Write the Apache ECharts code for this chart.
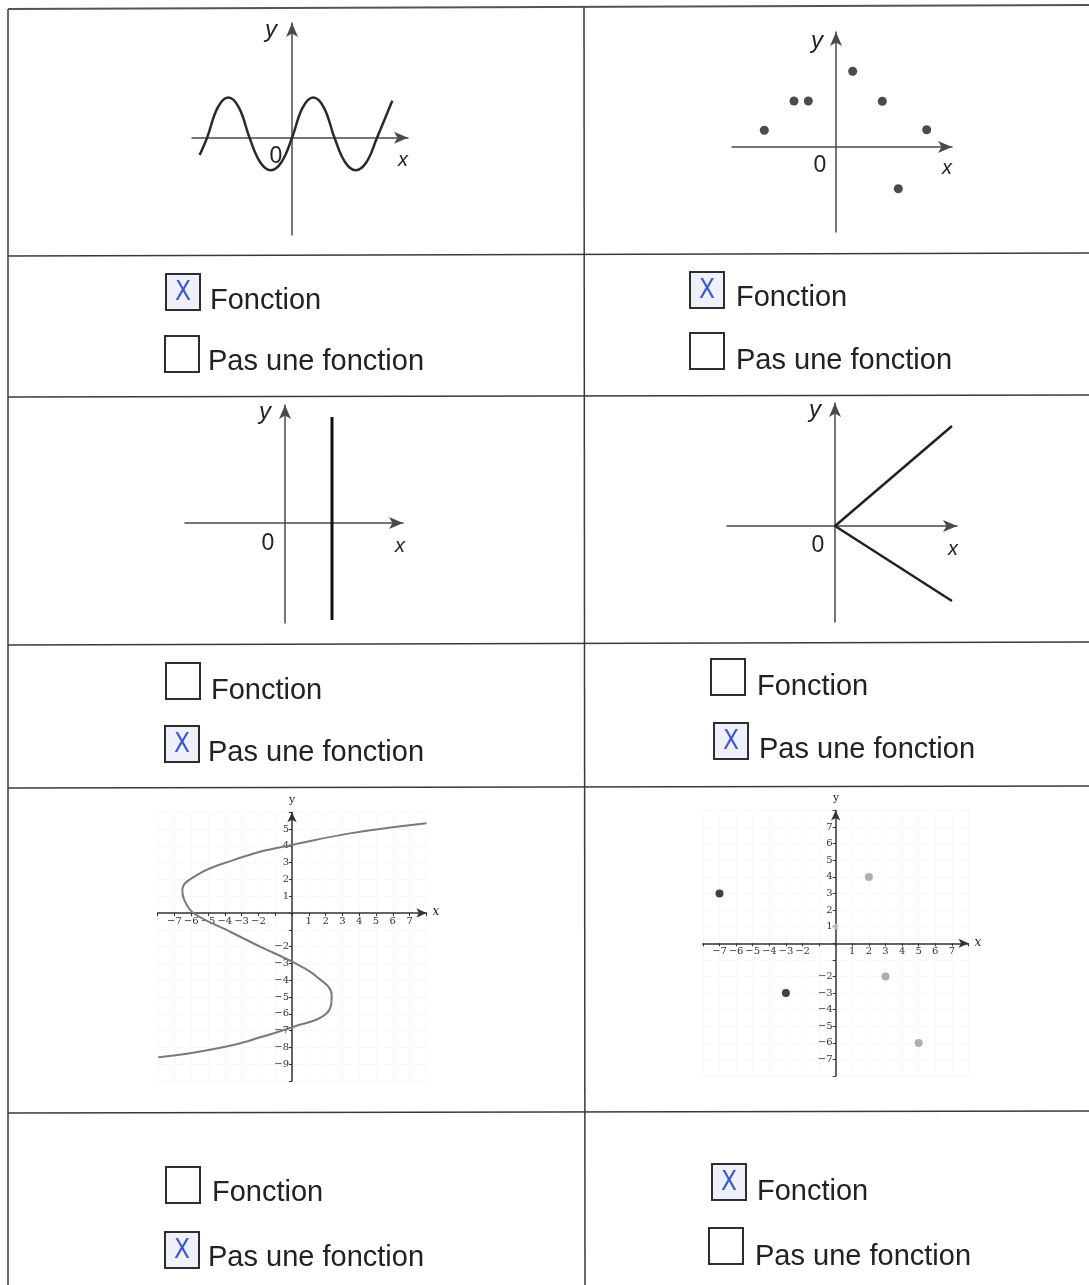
<!DOCTYPE html>
<html>
<head>
<meta charset="utf-8">
<title>Fonction ou pas une fonction</title>
<script src="https://cdn.jsdelivr.net/npm/echarts@6/dist/echarts.min.js"></script>
<style>
  html, body { margin: 0; padding: 0; background: #fff; }
  #main { width: 1089px; height: 1285px; }
</style>
</head>
<body>
<div id="main"></div>
<script>
// graphe 1 : sinusoide (x en quarts de periode, y en amplitudes)
var sineX = [-4.35, -4, -3.5, -3, -2.5, -2, -1.5, -1, -0.5, 0, 0.5, 1, 1.5, 2, 2.5, 3, 3.5, 4, 4.72];
var sineY = [-0.48, 0, 0.84, 1.12, 0.84, 0, -0.68, -0.9, -0.68, 0, 0.84, 1.12, 0.84, 0, -0.68, -0.9, -0.68, 0, 1.03];

// graphe 2 : points isoles
var dotsX = [-7.17, -4.2, -2.77, 1.67, 4.63, 9.07, 6.23];
var dotsY = [1.67, 4.6, 4.6, 7.57, 4.57, 1.73, -4.17];

// graphe 3 : droite verticale
var vertX = [4.7, 4.7];
var vertY = [10.6, -9.7];

// graphe 4 : deux demi-droites depuis l'origine
var vX = [11.7, 0, 11.7];
var vY = [10.0, 0, -7.5];

// graphe 5 : courbe en S (x fonction de y)
var sX = [8.0, 3.45, 0, -1.9, -3.49, -5.48, -6.53, -6.41, -5.87, -3.89, -1.9, 0, 1.47, 2.36, 2.07, 0, -1.9, -3.49, -6.07, -7.96];
var sY = [5.34, 4.74, 4.05, 3.65, 3.15, 2.36, 1.37, 0.77, 0, -1.01, -2.0, -2.9, -3.79, -4.88, -5.97, -6.8, -7.4, -7.86, -8.35, -8.59];

// graphe 6 : points
var blackX = [-7, -3];
var blackY = [3, -3];
var grayX = [2, 3, 5];
var grayY = [4, -2, -6];
var faintX = [0];
var faintY = [1];

// graduations affichees
var ticksX5 = [-7, -6, -5, -4, -3, -2, 1, 2, 3, 4, 5, 6, 7];
var ticksY5 = [5, 4, 3, 2, 1, -2, -3, -4, -5, -6, -7, -8, -9];
var ticksX6 = [-7, -6, -5, -4, -3, -2, 1, 2, 3, 4, 5, 6, 7];
var ticksY6 = [7, 6, 5, 4, 3, 2, 1, -2, -3, -4, -5, -6, -7];

// cases a cocher
var boxLabels = ["Fonction", "Pas une fonction"];
var answers = [0, 0, 1, 1, 1, 0]; // case cochee pour chaque graphe

function pairs(xs, ys) {
  var out = [];
  for (var i = 0; i < xs.length; i++) out.push([xs[i], ys[i]]);
  return out;
}

function plainAxis(idx, min, max) {
  return {
    type: "value",
    gridIndex: idx,
    min: min,
    max: max,
    axisLine: {
      onZero: true,
      symbol: ["none", "arrow"],
      symbolSize: [9, 14],
      lineStyle: { color: "#4a4a4a", width: 1.5 },
    },
    axisTick: { show: false },
    axisLabel: { show: false },
    splitLine: { show: false },
  };
}

// axe gradue place sur le zero de l'autre axe via offset
function gradAxis(idx, min, max, labels, isY) {
  return {
    type: "value",
    gridIndex: idx,
    min: min,
    max: max,
    interval: 1,
    position: isY ? "left" : "bottom",
    axisLine: {
      onZero: false,
      symbol: ["none", "arrow"],
      symbolSize: [7, 10],
      lineStyle: { color: "#333", width: 1.5 },
    },
    axisTick: { show: true, length: 3, lineStyle: { color: "#333" } },
    axisLabel: {
      margin: 3,
      fontSize: 10,
      fontFamily: '"DejaVu Serif", "Liberation Serif", serif',
      color: "#333",
      showMinLabel: true,
      showMaxLabel: true,
      formatter: function (v) {
        return labels.indexOf(Math.round(v)) >= 0 ? String(Math.round(v)).replace("-", "\u2212") : "";
      },
    },
    splitLine: { show: true, lineStyle: { color: "#f8f8f8", width: 1 } },
  };
}

var grids = [
  { left: 192, top: 23, width: 216, height: 212 },
  { left: 732, top: 32, width: 220, height: 200 },
  { left: 185, top: 405, width: 218, height: 218 },
  { left: 727, top: 403, width: 230, height: 219 },
  { left: 157.6, top: 812.2, width: 268.8, height: 268.8 },
  { left: 702.9, top: 810.5, width: 265.6, height: 265.6 },
];
grids.forEach(function (g) {
  g.containLabel = false;
  g.outerBoundsMode = "none";
});

var xAxes = [
  plainAxis(0, -4.71, 5.46),
  plainAxis(1, -10.4, 11.6),
  plainAxis(2, -10, 11.8),
  plainAxis(3, -10.8, 12.2),
  gradAxis(4, -8, 8, ticksX5, false),
  gradAxis(5, -8, 8, ticksX6, false),
];
var yAxes = [
  plainAxis(0, -2.7, 3.19),
  plainAxis(1, -8.5, 11.5),
  plainAxis(2, -10, 11.8),
  plainAxis(3, -9.6, 12.3),
  gradAxis(4, -10, 6, ticksY5, true),
  gradAxis(5, -8, 8, ticksY6, true),
];
// l'axe x passe par y = 0 et l'axe y par x = 0
[4, 5].forEach(function (i) {
  xAxes[i].offset = -((0 - yAxes[i].min) / (yAxes[i].max - yAxes[i].min)) * grids[i].height;
  yAxes[i].offset = -((0 - xAxes[i].min) / (xAxes[i].max - xAxes[i].min)) * grids[i].width;
});

// ----- decor : tableau, cases, lettres d'axes -----
var graphics = [];
var hLines = [[9, 5], [256, 253], [397, 395], [645, 642], [788, 786], [1113, 1111]];
hLines.forEach(function (h, i) {
  graphics.push({
    type: "line",
    shape: { x1: 8, y1: h[0], x2: 1089, y2: h[1] },
    style: { stroke: i === 0 ? "#555" : "#3a3a3a", lineWidth: i === 0 ? 2 : 1.5 },
  });
});
graphics.push({ type: "line", shape: { x1: 8, y1: 9, x2: 8, y2: 1285 }, style: { stroke: "#3a3a3a", lineWidth: 1.5 } });
graphics.push({ type: "line", shape: { x1: 584, y1: 7, x2: 585, y2: 1285 }, style: { stroke: "#3a3a3a", lineWidth: 1.5 } });

var cells = [
  { boxes: [[166, 274], [165, 336]], text: [[210, 311], [208, 372]] },
  { boxes: [[690, 272], [690, 333]], text: [[736, 308], [736, 371]] },
  { boxes: [[166, 663], [165, 726]], text: [[211, 701], [208, 763]] },
  { boxes: [[711, 659], [714, 723]], text: [[757, 697], [759, 760]] },
  { boxes: [[166, 1167], [165, 1232]], text: [[212, 1203], [208, 1268]] },
  { boxes: [[712, 1164], [709, 1228]], text: [[757, 1202], [755, 1267]] },
];
var LABEL_FONT = '29px "Liberation Sans", Arial, sans-serif';
cells.forEach(function (c, ci) {
  for (var k = 0; k < 2; k++) {
    var b = c.boxes[k];
    var on = answers[ci] === k;
    graphics.push({
      type: "rect",
      shape: { x: b[0], y: b[1], width: 34, height: 36 },
      style: { fill: on ? "#eef0fa" : "#fff", stroke: "#2e2e2e", lineWidth: 2 },
    });
    if (on) {
      graphics.push({
        type: "text",
        x: b[0] + 17,
        y: b[1] + 19,
        style: {
          text: "X",
          font: '26px "DejaVu Sans Condensed", "Liberation Sans", sans-serif',
          fill: "#3f56d4",
          textAlign: "center",
          textVerticalAlign: "middle",
        },
      });
    }
    graphics.push({
      type: "text",
      x: c.text[k][0],
      y: c.text[k][1] - 10,
      style: { text: boxLabels[k], font: LABEL_FONT, fill: "#222", textAlign: "left", textVerticalAlign: "middle" },
    });
  }
});

var axisLetters = [
  ["y", 271, 30, 'italic 24px "Liberation Sans Narrow", "Liberation Sans", sans-serif'],
  ["0", 276, 157, '23px "Liberation Sans", sans-serif'],
  ["x", 403, 160, 'italic 20px "Liberation Sans Narrow", "Liberation Sans", sans-serif'],
  ["y", 817, 41, 'italic 24px "Liberation Sans Narrow", "Liberation Sans", sans-serif'],
  ["0", 820, 166, '23px "Liberation Sans", sans-serif'],
  ["x", 947, 168, 'italic 20px "Liberation Sans Narrow", "Liberation Sans", sans-serif'],
  ["y", 265, 412, 'italic 24px "Liberation Sans Narrow", "Liberation Sans", sans-serif'],
  ["0", 268, 544, '23px "Liberation Sans", sans-serif'],
  ["x", 400, 546, 'italic 20px "Liberation Sans Narrow", "Liberation Sans", sans-serif'],
  ["y", 815, 410, 'italic 24px "Liberation Sans Narrow", "Liberation Sans", sans-serif'],
  ["0", 818, 546, '23px "Liberation Sans", sans-serif'],
  ["x", 953, 549, 'italic 20px "Liberation Sans Narrow", "Liberation Sans", sans-serif'],
  ["y", 292, 800, '11px "DejaVu Serif", serif'],
  ["x", 436, 912, 'italic 12px "DejaVu Serif", serif'],
  ["y", 836, 798, '11px "DejaVu Serif", serif'],
  ["x", 978, 943, 'italic 12px "DejaVu Serif", serif'],
];
axisLetters.forEach(function (a) {
  graphics.push({
    type: "text",
    x: a[1],
    y: a[2],
    style: { text: a[0], font: a[3], fill: "#222", textAlign: "center", textVerticalAlign: "middle" },
  });
});

var chart = echarts.init(document.getElementById("main"));
var option = {
  animation: false,
  backgroundColor: "#fff",
  grid: grids,
  xAxis: xAxes,
  yAxis: yAxes,
  graphic: graphics,
  series: [
    {
      type: "line",
      xAxisIndex: 0,
      yAxisIndex: 0,
      smooth: 0.4,
      showSymbol: false,
      lineStyle: { color: "#2a2a2a", width: 2.5 },
      data: pairs(sineX, sineY),
    },
    {
      type: "scatter",
      xAxisIndex: 1,
      yAxisIndex: 1,
      symbolSize: 9,
      itemStyle: { color: "#1e1e1e" },
      data: pairs(dotsX, dotsY),
    },
    {
      type: "line",
      xAxisIndex: 2,
      yAxisIndex: 2,
      showSymbol: false,
      lineStyle: { color: "#111", width: 3 },
      data: pairs(vertX, vertY),
    },
    {
      type: "line",
      xAxisIndex: 3,
      yAxisIndex: 3,
      showSymbol: false,
      lineStyle: { color: "#222", width: 2.5 },
      data: pairs(vX, vY),
    },
    {
      type: "line",
      xAxisIndex: 4,
      yAxisIndex: 4,
      smooth: 0.4,
      showSymbol: false,
      lineStyle: { color: "#7a7a7a", width: 2 },
      data: pairs(sX, sY),
    },
    {
      type: "scatter",
      xAxisIndex: 5,
      yAxisIndex: 5,
      symbolSize: 8,
      itemStyle: { color: "#111" },
      data: pairs(blackX, blackY),
    },
    {
      type: "scatter",
      xAxisIndex: 5,
      yAxisIndex: 5,
      symbolSize: 8,
      itemStyle: { color: "#9a9a9a" },
      data: pairs(grayX, grayY),
    },
    {
      type: "scatter",
      xAxisIndex: 5,
      yAxisIndex: 5,
      symbolSize: 6,
      itemStyle: { color: "#c8c8c8" },
      data: pairs(faintX, faintY),
    },
  ],
};
chart.setOption(option);
</script>
</body>
</html>
